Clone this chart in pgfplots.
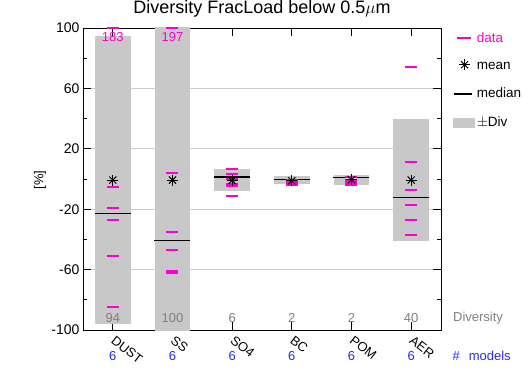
\documentclass[border=0pt]{standalone}
\usepackage{fontspec}
\setmainfont{Liberation Sans}
\usepackage{pgfplots}
\pgfplotsset{compat=1.18}
\definecolor{boxgray}{RGB}{200,200,200}
\definecolor{mag}{RGB}{255,0,204}
\definecolor{divgray}{RGB}{128,128,128}
\definecolor{modblue}{RGB}{40,40,255}
\definecolor{gridgray}{RGB}{205,205,205}
\pgfdeclareplotmark{hdash}{%
  \pgfpathrectangle{\pgfpoint{-6pt}{-1pt}}{\pgfpoint{12pt}{2pt}}%
  \pgfusepathqfill}
\pgfdeclareplotmark{hmed}{%
  \pgfpathrectangle{\pgfpoint{-18pt}{-0.55pt}}{\pgfpoint{36pt}{1.1pt}}%
  \pgfusepathqfill}
\tikzset{
  divlab/.style={divgray, font=\fontsize{13}{13}\selectfont},
  modlab/.style={modblue, font=\fontsize{13}{13}\selectfont},
}
\begin{document}
\begin{tikzpicture}
\begin{axis}[
  at={(0,0)}, anchor=south west,
  scale only axis, width=358pt, height=302pt,
  xmin=0.5, xmax=6.5, ymin=-100, ymax=100,
  xtick={1,2,3,4,5,6}, xticklabels={DUST,SS,SO4,BC,POM,AER},
  xticklabel style={xshift=3pt, yshift=-5pt, rotate=-38, anchor=north west, inner sep=0pt, font=\fontsize{13}{13}\selectfont},
  ytick={-100,-60,-20,20,60,100}, minor ytick={-80,-40,0,40,80},
  yticklabel style={font=\fontsize{14}{14}\selectfont},
  /pgf/number format/assume math mode=true,
  ymajorgrids, major grid style={gridgray, line width=0.8pt},
  tick align=inside, major tick length=8pt, minor tick length=4pt,
  tick style={black, line width=0.7pt},
  axis line style={black, line width=0.8pt},
  ylabel={[\%]},
  ylabel style={at={(axis description cs:-0.12,0.497)}, anchor=center, font=\fontsize{13}{13}\selectfont},
  title={Diversity FracLoad below 0.5$\mu$m},
  title style={at={(axis description cs:0.5,1)}, anchor=base, yshift=8pt, font=\fontsize{18}{18}\selectfont},
  clip mode=individual,
  legend style={at={(1.034,0.993)}, anchor=north west, draw=none, fill=none, inner sep=0pt,
    row sep=13.6pt, font=\fontsize{13.5}{13.5}\selectfont, nodes={inner sep=2pt}},
  legend cell align=left,
]
% legend
\addlegendimage{legend image code/.code={\fill[mag] (4pt,-0.5pt) rectangle (17pt,0.5pt); \path (0pt,0) (21pt,0);}}
\addlegendentry{\textcolor{mag}{data}}
\addlegendimage{legend image code/.code={\draw[black, line width=1pt] plot[mark=x, mark size=5pt] coordinates {(11pt,0)}; \draw[black, line width=1pt] plot[mark=+, mark size=5.5pt] coordinates {(11pt,0)}; \path (0pt,0) (21pt,0);}}
\addlegendentry{mean}
\addlegendimage{legend image code/.code={\fill[black] (1pt,-0.5pt) rectangle (18pt,0.5pt); \path (0pt,0) (21pt,0);}}
\addlegendentry{median}
\addlegendimage{legend image code/.code={\fill[boxgray] (0pt,-4.5pt) rectangle (21pt,4.5pt);}}
\addlegendentry{$\pm$Div}

% +/- diversity boxes
\addplot[fill=boxgray, draw=none, forget plot] coordinates {(0.7,-96) (1.3,-96) (1.3,94.5) (0.7,94.5)};
\addplot[fill=boxgray, draw=none, forget plot] coordinates {(1.7,-101) (2.3,-101) (2.3,101) (1.7,101)};
\addplot[fill=boxgray, draw=none, forget plot] coordinates {(2.7,-8) (3.3,-8) (3.3,6.8) (2.7,6.8)};
\addplot[fill=boxgray, draw=none, forget plot] coordinates {(3.7,-3.3) (4.3,-3.3) (4.3,1.8) (3.7,1.8)};
\addplot[fill=boxgray, draw=none, forget plot] coordinates {(4.7,-3.8) (5.3,-3.8) (5.3,2.6) (4.7,2.6)};
\addplot[fill=boxgray, draw=none, forget plot] coordinates {(5.7,-41) (6.3,-41) (6.3,40) (5.7,40)};

% medians
\addplot[only marks, mark=hmed, black, mark options={fill=black, draw=none}, forget plot]
  coordinates {(1,-23) (2,-41) (3,1.3) (4,-0.2) (5,0.9) (6,-12)};

% data
\addplot[only marks, mark=hdash, mag, mark options={fill=mag, draw=none}, forget plot]
  coordinates {
  (1,100) (1,-5) (1,-19) (1,-27) (1,-51) (1,-85)
  (2,100) (2,3.8) (2,-35) (2,-47) (2,-61) (2,-62)
  (3,6.5) (3,3.5) (3,0) (3,-3.5) (3,-4.5) (3,-11)
  (4,-0.5) (4,-1.5) (4,-2) (4,-2.5) (4,-3) (4,-3.8)
  (5,1) (5,-0.5) (5,-1.5) (5,-2.5) (5,-3.5) (5,-4)
  (6,74) (6,11) (6,-7) (6,-17) (6,-27) (6,-37)
  };

% means
\addplot[only marks, mark=x, mark size=5pt, black, mark options={draw=black, line width=1pt}, forget plot]
  coordinates {(1,-0.7) (2,-0.7) (3,-1) (4,-1.2) (5,-0.5) (6,-0.7)};
\addplot[only marks, mark=+, mark size=5.5pt, black, mark options={draw=black, line width=1pt}, forget plot]
  coordinates {(1,-0.7) (2,-0.7) (3,-1) (4,-1.2) (5,-0.5) (6,-0.7)};

% out-of-range values
\node[mag, font=\fontsize{13}{13}\selectfont] at (axis cs:1,94) {183};
\node[mag, font=\fontsize{13}{13}\selectfont] at (axis cs:2,94) {197};

% diversity numbers
\node[divlab] at (axis cs:1,-92) {94};
\node[divlab] at (axis cs:2,-92) {100};
\node[divlab] at (axis cs:3,-92) {6};
\node[divlab] at (axis cs:4,-92) {2};
\node[divlab] at (axis cs:5,-92) {2};
\node[divlab] at (axis cs:6,-92) {40};
\node[divlab, anchor=west, inner sep=0pt] at (axis cs:6.7,-92) {Diversity};

% number of models
\node[modlab] at (axis cs:1,-117) {6};
\node[modlab] at (axis cs:2,-117) {6};
\node[modlab] at (axis cs:3,-117) {6};
\node[modlab] at (axis cs:4,-117) {6};
\node[modlab] at (axis cs:5,-117) {6};
\node[modlab] at (axis cs:6,-117) {6};
\node[modlab, anchor=west, inner sep=0pt] at (axis cs:6.69,-117) {\#\hspace{9pt}models};
\end{axis}
\pgfresetboundingbox
\useasboundingbox (-83pt,-40pt) rectangle (448pt,330pt);
\end{tikzpicture}
\end{document}
